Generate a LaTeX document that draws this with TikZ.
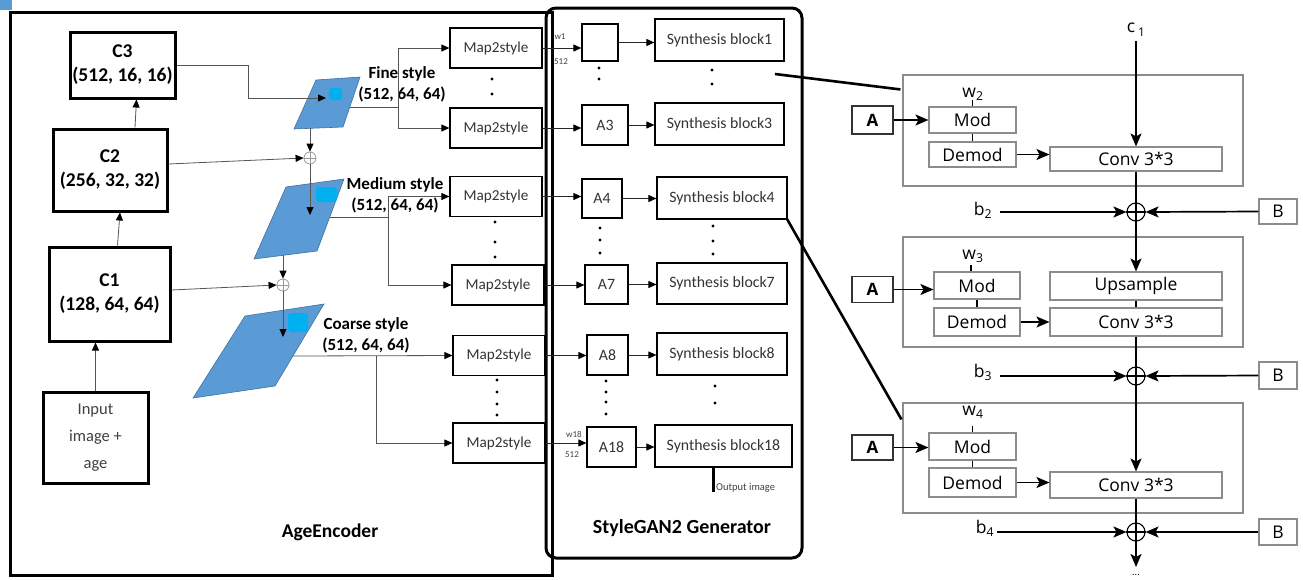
\documentclass[tikz,border=0pt]{standalone}
\usepackage{fontspec}
\setmainfont{Carlito}
\newfontfamily\opensans{Open Sans}
\usetikzlibrary{arrows.meta,calc}
\definecolor{pblue}{HTML}{5B9BD5}
\definecolor{pedge}{HTML}{41719C}
\definecolor{blobc}{HTML}{00B0F0}
\definecolor{lgray}{HTML}{555555}
\definecolor{cgray}{HTML}{8C8C8C}
\begin{document}
\begin{tikzpicture}[x=1pt,y=-1pt,
  cbox/.style={draw, line width=3pt, inner sep=0pt, align=center, font=\fontsize{19.5}{24}\selectfont\bfseries},
  mbox/.style={draw, line width=1.2pt, minimum width=92pt, minimum height=40pt, inner sep=0pt, text=black!80, font=\fontsize{15.2}{17}\selectfont},
  gbox/.style={draw, line width=1.2pt, inner sep=0pt, text=black!80, font=\fontsize{15.8}{18}\selectfont},
  arr/.style={draw=lgray, line width=0.8pt, -{Triangle[length=8pt,width=7pt,color=black]}},
  ln/.style={draw=lgray, line width=0.8pt},
  garr/.style={draw=black!85, line width=0.9pt, -{Triangle[length=8pt,width=7pt,color=black]}},
  oplus/.style={circle, draw=black!40, line width=0.8pt, minimum size=12pt, inner sep=0pt},
  para/.style={fill=pblue, draw=pedge, line width=0.6pt},
  stlab/.style={align=center, font=\fontsize{17}{21}\selectfont\bfseries},
  blk/.style={draw=cgray, line width=1.1pt, inner sep=0pt},
  rbox/.style={draw=cgray, line width=1.1pt, inner sep=0pt, font=\opensans\fontsize{17.5}{20}\selectfont},
  rarr/.style={draw=black, line width=1.7pt, -{Stealth[length=13pt,width=11pt,inset=3pt]}},
  rlab/.style={font=\opensans\fontsize{17.5}{20}\selectfont, inner sep=0pt}
]
\useasboundingbox (0,0) rectangle (1303,579);
\fill[pblue] (0,0) rectangle (12,10);

% outer boxes
\node[draw, line width=3pt, minimum width=542pt, minimum height=563pt, inner sep=0pt] (ae) at (281,293.5) {};
\node[draw, line width=3pt, rounded corners=10pt, minimum width=256pt, minimum height=550pt, inner sep=0pt] (sg) at (674,283) {};

% encoder boxes
\node[cbox, minimum width=105pt, minimum height=66pt] (C3) at (122.5,65) {C3\\(512, 16, 16)};
\node[cbox, minimum width=114pt, minimum height=82pt] (C2) at (110,170) {C2\\(256, 32, 32)};
\node[cbox, minimum width=121pt, minimum height=94pt] (C1) at (109.5,294) {C1\\(128, 64, 64)};
\node[draw, line width=3pt, inner sep=0pt, minimum width=105pt, minimum height=91pt, align=center, text=black!75, font=\fontsize{16.5}{27}\selectfont] (inp) at (95.5,437.5) {Input\\image +\\age};

\draw[arr] (inp.north) -- (inp.north |- C1.south);
\draw[arr] ($(C1.north)+(8,0)$) -- ($(C2.south)+(10,0)$);
\draw[arr] ($(C2.north)+(25,0)$) -- ($(C3.south)+(14,0)$);

% parallelograms
\path[para] (316,80) -- (360,77) -- (343,127) -- (294,129) -- cycle;
\fill[blobc, rounded corners=3pt] (329,88) rectangle (342,100);
\path[para] (286,187) -- (344,179) -- (317,251) -- (254,259) -- cycle;
\fill[blobc, rounded corners=3pt] (316,187) rectangle (337,202);
\path[para] (245,316) -- (324,304) -- (275,386) -- (193,398) -- cycle;
\fill[blobc, rounded corners=3pt] (288,313) rectangle (308,332);

\coordinate (fineIn) at (326,98);
\coordinate (fineB) at (310,128);
\coordinate (fineOut) at (350,107);
\coordinate (medIn) at (310,215);
\coordinate (medB) at (283,255);
\coordinate (medOut) at (330,217);
\coordinate (coarseIn) at (283,337);
\coordinate (coarseOut) at (293,356);

\node[oplus] (p1) at (310,158) {};
\draw[draw=black!40, line width=0.8pt] (p1.west) -- (p1.east) (p1.north) -- (p1.south);
\node[oplus] (p2) at (283,285) {};
\draw[draw=black!40, line width=0.8pt] (p2.west) -- (p2.east) (p2.north) -- (p2.south);

\draw[arr] (C3.east) -| (248,98) -- (fineIn);
\draw[arr] ($(C2.east)+(0,-6)$) -- (p1.west);
\draw[arr] ($(C1.east)+(0,-4)$) -- (p2.west);
\draw[arr] (fineB) -- (p1.north);
\draw[arr] (p1.south) -- (medIn);
\draw[arr] (medB) -- (p2.north);
\draw[arr] (p2.south) -- (coarseIn);

% labels
\node[stlab] (lfine) at (402,84) {Fine style\\(512, 64, 64)};
\node[stlab] (lmed) at (395,195) {Medium style\\(512, 64, 64)};
\node[stlab] (lcoarse) at (366,335) {Coarse style\\(512, 64, 64)};

% map2style
\node[mbox] (m1) at (496,48) {Map2style};
\node[mbox] (m2) at (496,128) {Map2style};
\node[mbox] (m3) at (496,196.5) {Map2style};
\node[mbox] (m4) at (498,285) {Map2style};
\node[mbox] (m5) at (499,355.5) {Map2style};
\node[mbox] (m6) at (499,443) {Map2style};

\coordinate (fb) at (398,107);
\coordinate (mb) at (388,217);
\coordinate (cb) at (376,356);
\draw[ln] (fineOut) -- (fb);
\draw[arr] (fb) |- (m1.west);
\draw[arr] (fb) |- (m2.west);
\draw[ln] (medOut) -- (mb);
\draw[arr] (mb) |- (m3.west);
\draw[arr] (mb) |- (m4.west);
\draw[arr] (coarseOut) -- (m5.west);
\draw[arr] (cb) |- (m6.west);

% dots
\foreach \x/\y in {492/79,492/94,495/222,495/242,495/257,497/380,497/392,497/404,497/415,
  599/68,599/79,712/70,712/84,600/228,600/240,600/253,713/226,713/241,713/254,
  606/381,606/392,606/402,606/414,715/386,715/403}
  \fill (\x,\y) circle (1.6pt);

% generator
\node[gbox, minimum width=36pt, minimum height=37pt] (g1) at (600,42.5) {};
\node[gbox, minimum width=129pt, minimum height=42pt] (s1) at (719.5,40) {Synthesis block1};
\node[gbox, minimum width=46pt, minimum height=40pt] (a3) at (605,125) {A3};
\node[gbox, minimum width=129pt, minimum height=42pt] (s3) at (719.5,124) {Synthesis block3};
\node[gbox, minimum width=40pt, minimum height=39pt] (a4) at (602,198.5) {A4};
\node[gbox, minimum width=130pt, minimum height=42pt] (s4) at (722,198) {Synthesis block4};
\node[gbox, minimum width=43pt, minimum height=39pt] (a7) at (606.5,284.5) {A7};
\node[gbox, minimum width=130pt, minimum height=41pt] (s7) at (722,283.5) {Synthesis block7};
\node[gbox, minimum width=41pt, minimum height=40pt] (a8) at (607.5,355) {A8};
\node[gbox, minimum width=130pt, minimum height=42pt] (s8) at (722,354) {Synthesis block8};
\node[gbox, minimum width=49pt, minimum height=40pt] (a18) at (611.5,447) {A18};
\node[gbox, minimum width=137pt, minimum height=42pt] (s18) at (723.5,446) {Synthesis block18};

\draw[garr] (m1.east) -- (m1.east -| g1.west);
\draw[garr] (m2.east) -- (m2.east -| a3.west);
\draw[garr] (m3.east) -- (m3.east -| a4.west);
\draw[garr] (m4.east) -- (m4.east -| a7.west);
\draw[garr] (m5.east) -- (m5.east -| a8.west);
\draw[garr] (m6.east) -- (m6.east -| a18.west);

\draw[garr] (g1.east) -- (g1.east -| s1.west);
\draw[garr] (a3.east) -- (a3.east -| s3.west);
\draw[garr] (a4.east) -- (a4.east -| s4.west);
\draw[garr] (a7.east) -- (a7.east -| s7.west);
\draw[garr] (a8.east) -- (a8.east -| s8.west);
\draw[garr] (a18.east) -- (a18.east -| s18.west);

\node[font=\fontsize{9}{10}\selectfont, inner sep=0pt, text=black!75] (w1) at (560,37) {w1};
\node[font=\fontsize{9}{10}\selectfont, inner sep=0pt, text=black!75] (n512a) at (561,62) {512};
\node[font=\fontsize{9}{10}\selectfont, inner sep=0pt, text=black!75] (w18) at (574,434) {w18};
\node[font=\fontsize{9}{10}\selectfont, inner sep=0pt, text=black!75] (n512b) at (572,455) {512};

\coordinate (outEnd) at (713,492);
\draw[line width=3pt] (s18.south -| outEnd) -- (outEnd);
\node[anchor=west, inner sep=0pt, text=black!75, font=\fontsize{10.5}{12}\selectfont] (outlab) at (716,488) {Output image};

\node[font=\fontsize{20}{22}\selectfont\bfseries] (gt) at (682,528) {StyleGAN2 Generator};
\node[font=\fontsize{19.5}{22}\selectfont\bfseries] (at) at (330,532) {AgeEncoder};

% right panel
\node[blk, minimum width=340pt, minimum height=111pt] (blk1) at (1073,130.5) {};
\node[blk, minimum width=340pt, minimum height=110pt] (blk2) at (1073,292) {};
\node[blk, minimum width=340pt, minimum height=110pt] (blk3) at (1073,458) {};

\coordinate (z1a) at (775,74);
\coordinate (z2a) at (787,219);
\draw[line width=2.6pt] (z1a) -- ($(blk1.north west)+(-2,15)$);
\draw[line width=2.6pt] (z2a) -- ($(blk3.north west)+(-1,17)$);

% block 1
\node[rbox, minimum width=87pt, minimum height=26pt] (mod1) at (972.5,120) {Mod};
\node[rbox, minimum width=87pt, minimum height=25pt] (dem1) at (972.5,154.5) {Demod};
\node[rbox, minimum width=172pt, minimum height=24pt] (conv1) at (1136,159) {Conv 3*3};
\node[rbox, draw=black!80, minimum width=41pt, minimum height=28pt, font=\opensans\bfseries\fontsize{17}{20}\selectfont] (A1) at (872.5,120) {A};
\node[rlab] (c1) at (1136,30) {c\,\raisebox{-4pt}{\fontsize{12}{12}\selectfont 1}};
\node[rlab] (w2) at (973,94) {w\textsubscript{2}};
\draw[line width=1.2pt] (mod1.north) -- ++(0,-6);
\draw[line width=1.2pt] (mod1.south) -- (dem1.north);
\draw[rarr] (A1.east) -- (mod1.west);
\draw[rarr] (dem1.east) -- (dem1.east -| conv1.west);
\draw[rarr] (conv1.north |- c1.south) ++(0,4) -- (conv1.north);

\node[circle, draw, line width=1.1pt, minimum size=18pt, inner sep=0pt] (sum1) at (1136,212) {};
\draw[line width=1.1pt] (sum1.west) -- (sum1.east);
\draw[line width=1.2pt] (conv1.south) -- (sum1.south);
\node[rlab] (b2) at (983,210) {b\textsubscript{2}};
\node[rbox, minimum width=38pt, minimum height=25pt] (B1) at (1278,211.5) {B};
\draw[rarr] ($(b2.east |- sum1)+(8,0)$) -- (sum1.west);
\draw[rarr] (B1.west) -- (sum1.east);

% block 2
\node[rbox, minimum width=86pt, minimum height=27pt] (mod2) at (977,285.5) {Mod};
\node[rbox, minimum width=86pt, minimum height=28pt] (dem2) at (977,322) {Demod};
\node[rbox, minimum width=172pt, minimum height=28pt] (up2) at (1136,286) {Upsample};
\node[rbox, minimum width=172pt, minimum height=28pt] (conv2) at (1136,322) {Conv 3*3};
\node[rbox, draw=black!80, minimum width=41pt, minimum height=26pt, font=\opensans\bfseries\fontsize{17}{20}\selectfont] (A2) at (872.5,289.5) {A};
\node[rlab] (w3) at (973,256) {w\textsubscript{3}};
\draw[line width=1.2pt] (mod2.north) ++(-6,0) -- ++(0,-6);
\draw[line width=1.2pt] (mod2.south) -- (dem2.north);
\draw[line width=1.2pt] (up2.south) -- (conv2.north);
\draw[rarr] (A2.east) -- (A2.east -| mod2.west);
\draw[rarr] (dem2.east) -- (conv2.west);
\draw[rarr] (sum1.south) -- (up2.north);

\node[circle, draw, line width=1.1pt, minimum size=18pt, inner sep=0pt] (sum2) at (1136,376) {};
\draw[line width=1.1pt] (sum2.west) -- (sum2.east);
\draw[line width=1.2pt] (conv2.south) -- (sum2.south);
\node[rlab] (b3) at (983,372) {b\textsubscript{3}};
\node[rbox, minimum width=38pt, minimum height=27pt] (B2) at (1278,375.5) {B};
\draw[rarr] ($(b3.east |- sum2)+(8,0)$) -- (sum2.west);
\draw[rarr] (B2.west) -- (sum2.east);

% block 3
\node[rbox, minimum width=87pt, minimum height=27pt] (mod3) at (972.5,446.5) {Mod};
\node[rbox, minimum width=87pt, minimum height=29pt] (dem3) at (972.5,482.5) {Demod};
\node[rbox, minimum width=172pt, minimum height=26pt] (conv3) at (1136,485) {Conv 3*3};
\node[rbox, draw=black!80, minimum width=41pt, minimum height=25pt, font=\opensans\bfseries\fontsize{17}{20}\selectfont] (A3r) at (872.5,447.5) {A};
\node[rlab] (w4) at (973,412) {w\textsubscript{4}};
\draw[line width=1.2pt] (mod3.north) -- ++(-0,-6);
\draw[line width=1.2pt] (mod3.south) -- (dem3.north);
\draw[rarr] (A3r.east) -- (A3r.east -| mod3.west);
\draw[rarr] (dem3.east) -- (dem3.east -| conv3.west);
\draw[rarr] (sum2.south) -- (conv3.north);

\node[circle, draw, line width=1.1pt, minimum size=18pt, inner sep=0pt] (sum3) at (1136,532) {};
\draw[line width=1.1pt] (sum3.west) -- (sum3.east);
\draw[line width=1.2pt] (conv3.south) -- (sum3.south);
\node[rlab] (b4) at (985,528) {b\textsubscript{4}};
\node[rbox, minimum width=38pt, minimum height=26pt] (B3) at (1278,532) {B};
\draw[rarr] ($(b4.east |- sum3)+(3,0)$) -- (sum3.west);
\draw[rarr] (B3.west) -- (sum3.east);
\coordinate (endpt) at (1136,567);
\draw[rarr] (sum3.south) -- (endpt);
\node[inner sep=0pt, font=\fontsize{10}{10}\selectfont] (dots) at (1136,575) {...};
\end{tikzpicture}
\end{document}
